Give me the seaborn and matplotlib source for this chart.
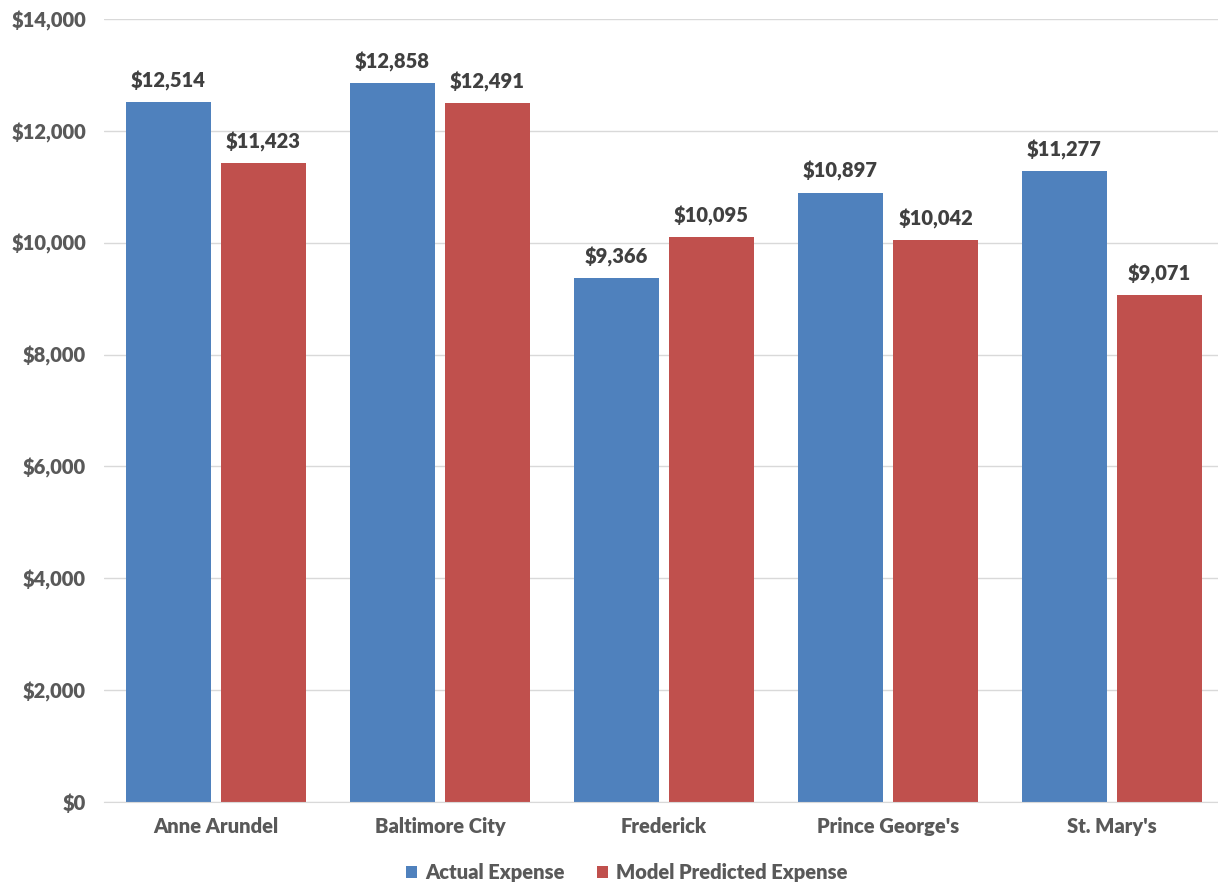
import matplotlib
matplotlib.use("Agg")
import matplotlib.pyplot as plt
import pandas as pd
import seaborn as sns

counties = ["Anne Arundel", "Baltimore City", "Frederick", "Prince George's", "St. Mary's"]
actual = [12514, 12858, 9366, 10897, 11277]
predicted = [11423, 12491, 10095, 10042, 9071]
series = ["Actual Expense", "Model Predicted Expense"]
colors = ["#4F81BD", "#C0504D"]
y_ticks = [0, 2000, 4000, 6000, 8000, 10000, 12000, 14000]

df = pd.DataFrame({
    "County": counties * 2,
    "Series": [series[0]] * len(counties) + [series[1]] * len(counties),
    "Expense": actual + predicted,
})

sns.set_style("white")
plt.rcParams["font.family"] = ["Lato", "DejaVu Sans"]
fs = 14.5
wt = "heavy"

fig = plt.figure(figsize=(12.18, 8.84), dpi=100)
# axes run a little past the right edge, as in the reference
ax = fig.add_axes([104 / 1218, 1 - 802 / 884, (1224 - 104) / 1218, (802 - 19) / 884])

sns.barplot(data=df, x="County", y="Expense", hue="Series", palette=colors,
            width=0.848, gap=0.105, saturation=1, linewidth=0, ax=ax, legend=True)

ax.set_ylim(0, 14000)
ax.set_xlim(-0.5, 4.5)
ax.set_yticks(y_ticks)
ax.set_yticklabels([f"${v:,}" for v in y_ticks])
ax.grid(axis="y", color="#D9D9D9", linewidth=1)
ax.set_axisbelow(True)
for side in ["top", "right", "left"]:
    ax.spines[side].set_visible(False)
ax.spines["bottom"].set_color("#D9D9D9")
ax.tick_params(axis="both", length=0, labelsize=fs, labelcolor="#595959")
ax.tick_params(axis="x", pad=11)
ax.tick_params(axis="y", pad=13)
for lbl in ax.get_xticklabels() + ax.get_yticklabels():
    lbl.set_fontweight(wt)
ax.set_xlabel("")
ax.set_ylabel("")

for cont in ax.containers:
    ax.bar_label(cont, labels=[f"${v:,.0f}" for v in cont.datavalues], padding=8,
                 fontsize=fs, fontweight=wt, color="#404040")

ax.get_legend().remove()
handles, labels = ax.get_legend_handles_labels()
fig.legend(handles, labels, loc="center", bbox_to_anchor=(627 / 1218, 1 - 873 / 884),
           ncol=2, frameon=False, handlelength=0.55, handleheight=0.55,
           handletextpad=0.4, columnspacing=1.6,
           prop={"size": fs, "weight": wt}, labelcolor="#595959")

fig.savefig("out.png", dpi=100)
